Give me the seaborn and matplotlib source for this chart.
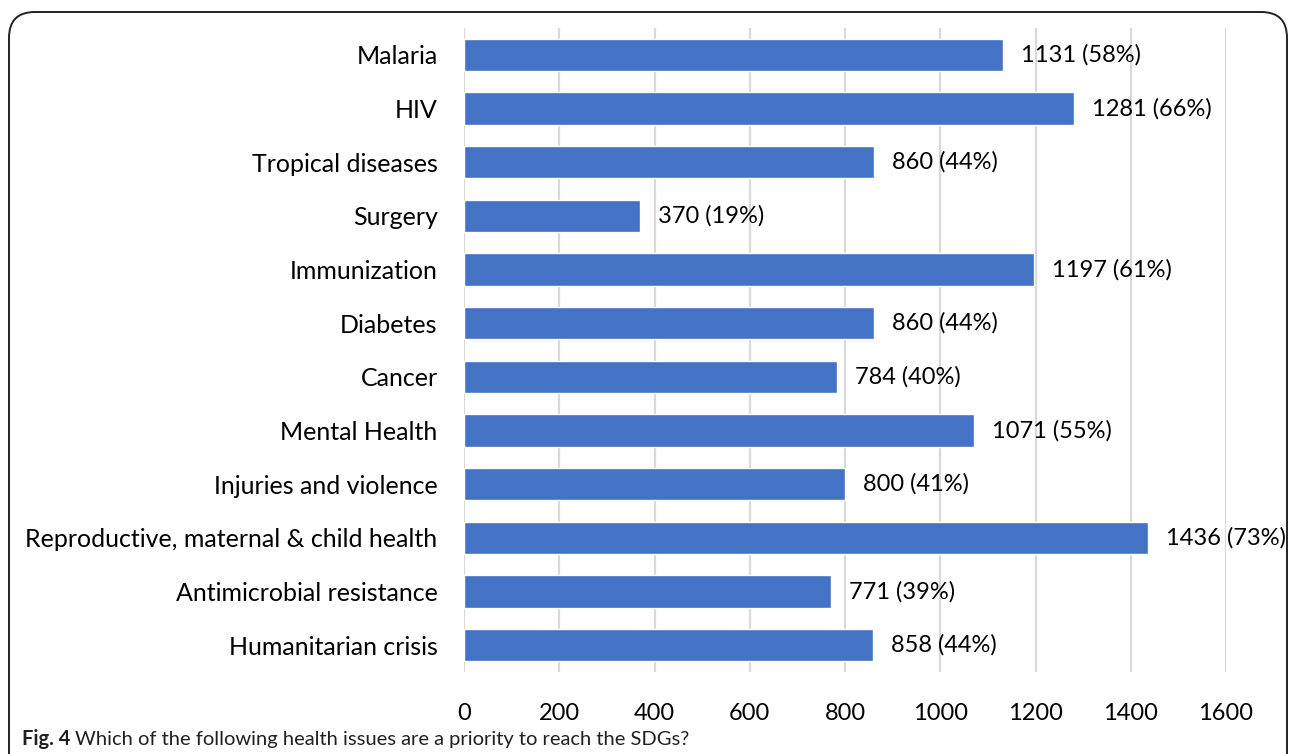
import matplotlib
matplotlib.use("Agg")
import matplotlib.pyplot as plt
import seaborn as sns
import pandas as pd
from matplotlib.patches import FancyBboxPatch

categories = [
    "Malaria", "HIV", "Tropical diseases", "Surgery", "Immunization",
    "Diabetes", "Cancer", "Mental Health", "Injuries and violence",
    "Reproductive, maternal & child health", "Antimicrobial resistance",
    "Humanitarian crisis",
]
counts = [1131, 1281, 860, 370, 1197, 860, 784, 1071, 800, 1436, 771, 858]
percents = [58, 66, 44, 19, 61, 44, 40, 55, 41, 73, 39, 44]
x_ticks = [0, 200, 400, 600, 800, 1000, 1200, 1400, 1600]

df = pd.DataFrame({"issue": categories, "count": counts})

sns.set_theme(style="white")
plt.rcParams["font.family"] = ["Lato", "DejaVu Sans"]

fig = plt.figure(figsize=(12.93, 7.54), dpi=100)
ax = fig.add_axes([464 / 1293, 1 - 672 / 754, (1226 - 464) / 1293, (672 - 28) / 754])

sns.barplot(data=df, x="count", y="issue", orient="h", color="#4472C4",
            saturation=1, width=0.6, ax=ax, zorder=3)

ax.set_xlim(0, 1600)
ax.set_ylim(len(categories) - 0.5, -0.5)
ax.set_xticks(x_ticks)
ax.set_xticklabels([str(t) for t in x_ticks])
ax.xaxis.grid(True, color="#D9D9D9", linewidth=1.6, zorder=0)
ax.yaxis.grid(False)
for s in ax.spines.values():
    s.set_visible(False)
ax.tick_params(axis="both", length=0, colors="black")
ax.tick_params(axis="x", pad=22, labelsize=17)
ax.tick_params(axis="y", pad=19, labelsize=18)
ax.set_xlabel("")
ax.set_ylabel("")

for i, (c, p) in enumerate(zip(counts, percents)):
    ax.annotate(f"{c} ({p}%)", xy=(c, i), xytext=(13, 0),
                textcoords="offset points", va="center", ha="left",
                fontsize=17, color="black")

# rounded frame around the figure panel
frame = FancyBboxPatch((9 / 1293, -0.05), (1287 - 9) / 1293, (754 - 12) / 754 + 0.05,
                       boxstyle="round,pad=0,rounding_size=0.02",
                       transform=fig.transFigure, fill=False,
                       edgecolor="#222222", linewidth=1.4, mutation_aspect=1293 / 754)
fig.patches.append(frame)

# caption
t1 = fig.text(22 / 1293, 1 - 745 / 754, "Fig. 4", fontsize=14.5, fontweight="bold",
              color="#231F20", ha="left", va="baseline")
fig.canvas.draw()
bb = t1.get_window_extent()
fig.text(bb.x1 / 1293 + 5 / 1293, 1 - 745 / 754,
         "Which of the following health issues are a priority to reach the SDGs?",
         fontsize=14.5, color="#231F20", ha="left", va="baseline")

fig.savefig("out.png", dpi=100)
